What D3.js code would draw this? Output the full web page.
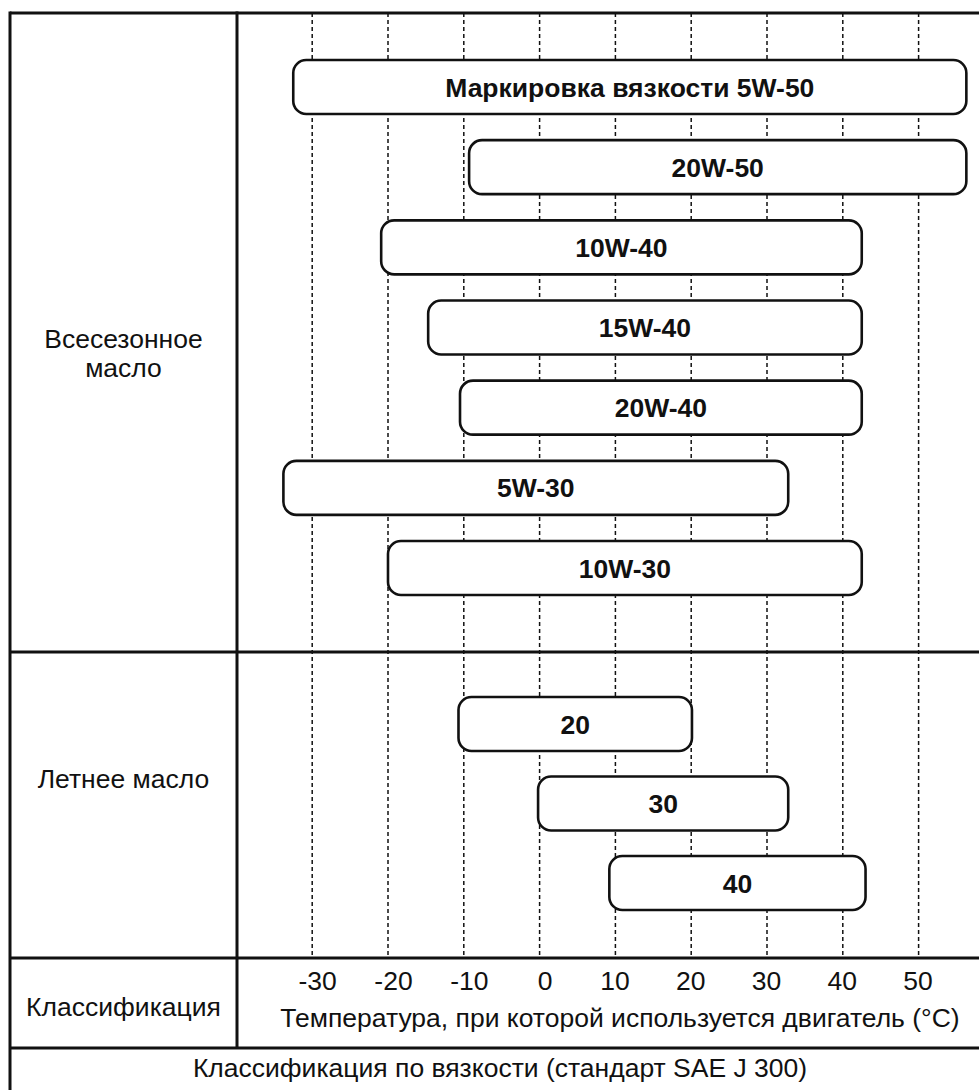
<!DOCTYPE html>
<html>
<head>
<meta charset="utf-8">
<script src="https://cdn.jsdelivr.net/npm/d3@7"></script>
<style>
  html, body { margin: 0; padding: 0; background: #fff; }
  svg { display: block; }
  text { font-family: "Liberation Sans", Arial, sans-serif; fill: #111; }
</style>
</head>
<body>
<svg id="chart" width="979" height="1090"></svg>
<script>
// SAE J 300 viscosity grades and the ambient temperature range (°C) each covers
const allSeasonGrades = ["Маркировка вязкости 5W-50", "20W-50", "10W-40", "15W-40", "20W-40", "5W-30", "10W-30"];
const allSeasonLow  = [-32.5, -9.3, -20.9, -14.7, -10.5, -33.8, -20.0];
const allSeasonHigh = [ 56.3, 56.3,  42.5,  42.5,  42.5,  32.8,  42.5];

const summerGrades = ["20", "30", "40"];
const summerLow  = [-10.7, -0.2,  9.2];
const summerHigh = [ 20.1, 32.8, 43.0];

const tempTicks = [-30, -20, -10, 0, 10, 20, 30, 40, 50];

const sectionLabels = {
  allSeason: ["Всесезонное", "масло"],
  summer: ["Летнее масло"],
  classification: "Классификация",
  axisTitle: "Температура, при которой используется двигатель (°C)",
  footer: "Классификация по вязкости (стандарт SAE J 300)"
};

const svg = d3.select("#chart");
const fontSize = 26.5;

// table layout
const frameLeft = 10, divider = 237, frameRight = 985;
const rowTop = 13, rowSummer = 652, rowClass = 958, rowFooter = 1048;
const barHeight = 54, barRadius = 13;

const x = d3.scaleLinear().domain([-30, 50]).range([312.2, 918.6]);
const yAll = d3.scalePoint().domain(allSeasonGrades).range([60, 541]);
const ySummer = d3.scalePoint().domain(summerGrades).range([697, 856]);

svg.append("rect").attr("width", 979).attr("height", 1090).attr("fill", "#fff");

// dashed temperature guides
svg.append("g")
  .selectAll("line")
  .data(tempTicks)
  .join("line")
  .attr("x1", d => x(d)).attr("x2", d => x(d))
  .attr("y1", rowTop).attr("y2", rowClass)
  .attr("stroke", "#111")
  .attr("stroke-width", 1.5)
  .attr("stroke-dasharray", "4,3");

// table rules
const rules = svg.append("g").attr("stroke", "#111").attr("stroke-width", 3);
[rowTop, rowSummer, rowClass, rowFooter].forEach(y => {
  rules.append("line").attr("x1", frameLeft).attr("x2", frameRight).attr("y1", y).attr("y2", y);
});
rules.append("line").attr("x1", frameLeft).attr("x2", frameLeft).attr("y1", rowTop - 1.5).attr("y2", 1095);
rules.append("line").attr("x1", divider).attr("x2", divider).attr("y1", rowTop - 1.5).attr("y2", rowFooter);

// grade bars
function drawBars(grades, low, high, yScale) {
  const rows = grades.map((g, i) => ({ grade: g, lo: low[i], hi: high[i] }));
  const g = svg.append("g");
  g.selectAll("rect")
    .data(rows)
    .join("rect")
    .attr("x", d => x(d.lo))
    .attr("y", d => yScale(d.grade))
    .attr("width", d => x(d.hi) - x(d.lo))
    .attr("height", barHeight)
    .attr("rx", barRadius).attr("ry", barRadius)
    .attr("fill", "#fff")
    .attr("stroke", "#111")
    .attr("stroke-width", 2.6);
  g.selectAll("text")
    .data(rows)
    .join("text")
    .attr("x", d => (x(d.lo) + x(d.hi)) / 2)
    .attr("y", d => yScale(d.grade) + barHeight / 2)
    .attr("dy", "0.36em")
    .attr("text-anchor", "middle")
    .attr("font-weight", "bold")
    .attr("font-size", fontSize)
    .text(d => d.grade);
}
drawBars(allSeasonGrades, allSeasonLow, allSeasonHigh, yAll);
drawBars(summerGrades, summerLow, summerHigh, ySummer);

// row headings
const labelX = (frameLeft + divider) / 2;
svg.append("text")
  .attr("x", labelX).attr("y", 348)
  .attr("text-anchor", "middle").attr("font-size", fontSize)
  .selectAll("tspan")
  .data(sectionLabels.allSeason)
  .join("tspan")
  .attr("x", labelX)
  .attr("dy", (d, i) => i === 0 ? 0 : 29)
  .text(d => d);

svg.append("text")
  .attr("x", labelX).attr("y", 788)
  .attr("text-anchor", "middle").attr("font-size", fontSize)
  .text(sectionLabels.summer[0]);

svg.append("text")
  .attr("x", labelX).attr("y", 1016)
  .attr("text-anchor", "middle").attr("font-size", fontSize)
  .text(sectionLabels.classification);

// temperature axis
const axis = d3.axisBottom(x).tickValues(tempTicks).tickSize(0).tickPadding(0).tickFormat(d3.format("d"));
const axisG = svg.append("g").attr("transform", `translate(0, ${rowClass})`).call(axis);
axisG.select(".domain").remove();
axisG.selectAll("text")
  .attr("y", 32)
  .attr("dy", 0)
  .attr("dx", d => d <= 0 ? 5 : -1)
  .attr("font-size", fontSize)
  .attr("font-family", "Liberation Sans, Arial, sans-serif")
  .attr("fill", "#111")
  .text(d => d < 0 ? "-" + Math.abs(d) : d);

svg.append("text")
  .attr("x", 620).attr("y", 1027)
  .attr("text-anchor", "middle").attr("font-size", fontSize)
  .text(sectionLabels.axisTitle);

svg.append("text")
  .attr("x", 500).attr("y", 1077)
  .attr("text-anchor", "middle").attr("font-size", fontSize)
  .text(sectionLabels.footer);
</script>
</body>
</html>
